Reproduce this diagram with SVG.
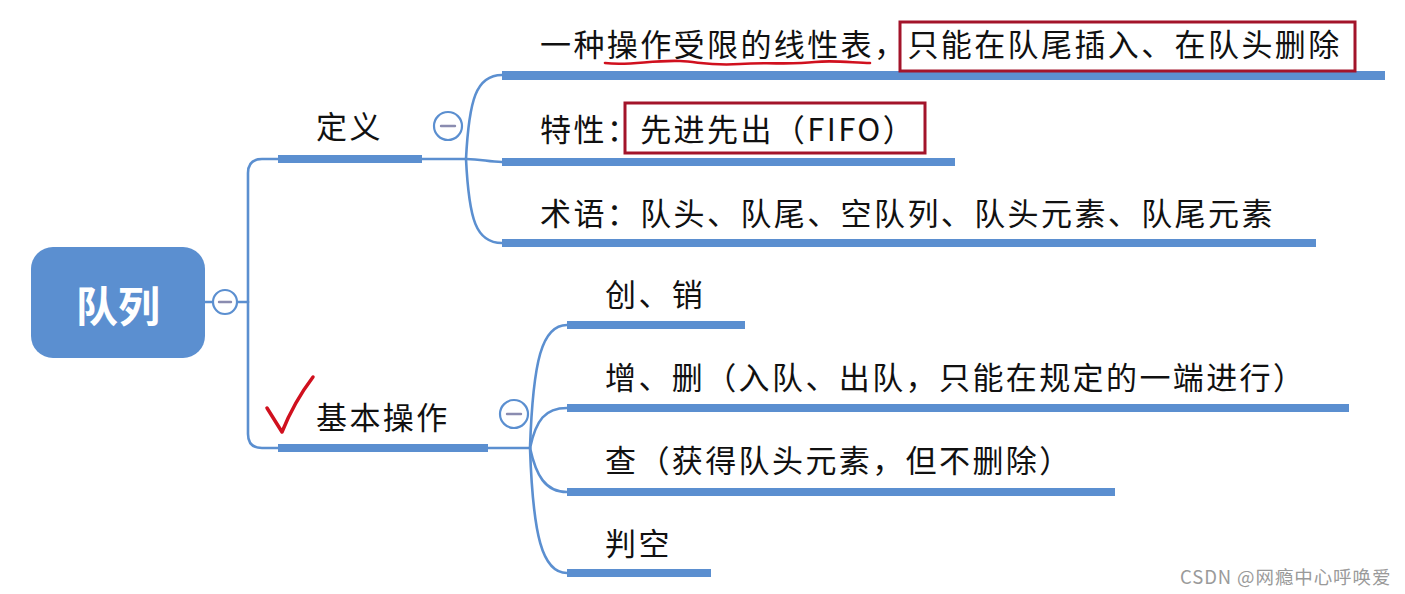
<svg xmlns="http://www.w3.org/2000/svg" width="1405" height="594" viewBox="0 0 1405 594">
<style>
.t{font-family:"Noto Sans CJK SC","Noto Sans",sans-serif;font-size:31px;letter-spacing:2.4px;fill:#111}
.bar{fill:#5b8fd0}
.ln{fill:none;stroke:#5b8fd0;stroke-width:2.6;stroke-linecap:round}
.cc{fill:#fff;stroke:#5b8fd0;stroke-width:2.2}
.mn{stroke:#8a8cb0;stroke-width:2.4;stroke-linecap:round}
.rb{fill:none;stroke:#a3142a;stroke-width:3}
</style>
<rect width="1405" height="594" fill="#fff"/>
<g id="connectors">
<path class="ln" d="M205,302 L248,302"/>
<path class="ln" d="M278,159 L262,159 Q248,159 248,173 L248,434 Q248,448 262,448 L278,448"/>
<path class="ln" d="M422,159 L466,159"/>
<path class="ln" d="M466,159 C469,100 476,75 502,75"/>
<path class="ln" d="M466,159 C482,159 488,162 502,162"/>
<path class="ln" d="M466,159 C469,220 476,243 502,243"/>
<path class="ln" d="M488,448 L530,448"/>
<path class="ln" d="M530,448 C533,360 542,325 567,325"/>
<path class="ln" d="M530,448 C536,420 545,408 567,408"/>
<path class="ln" d="M530,448 C536,475 545,492 567,492"/>
<path class="ln" d="M530,448 C533,535 542,573 567,573"/>
</g>
<g id="root">
<rect x="31" y="247" width="174" height="111" rx="22" fill="#5b8fd0"/>
<text x="118" y="322" text-anchor="middle" font-family="'Noto Sans CJK SC',sans-serif" font-size="42" font-weight="bold" fill="#fff">队列</text>
<circle class="cc" cx="225" cy="302" r="12"/>
<line class="mn" x1="219" y1="302" x2="231" y2="302"/>
</g>
<g id="def">
<rect class="bar" x="278" y="155" width="144" height="8"/>
<text class="t" x="316" y="138">定义</text>
<circle class="cc" cx="448" cy="126" r="14"/>
<line class="mn" x1="441" y1="126" x2="455" y2="126"/>
</g>
<g id="def1">
<rect class="bar" x="502" y="71" width="883" height="9"/>
<text class="t" x="540" y="56">一种操作受限的线性表，只能在队尾插入、在队头删除</text>
<rect class="rb" x="900" y="22" width="455" height="49"/>
<path d="M605,63 C630,66 650,60 680,61 C700,62 710,66 740,64 C770,62 790,65 815,62 C835,60 855,63 870,63" fill="none" stroke="#d0101e" stroke-width="2.6" stroke-linecap="round"/>
</g>
<g id="def2">
<rect class="bar" x="502" y="158" width="453" height="8"/>
<text class="t" x="540" y="141">特性：先进先出（FIFO）</text>
<rect class="rb" x="625" y="103" width="300" height="50"/>
</g>
<g id="def3">
<rect class="bar" x="502" y="239" width="814" height="8"/>
<text class="t" x="540" y="225">术语：队头、队尾、空队列、队头元素、队尾元素</text>
</g>
<g id="ops">
<rect class="bar" x="278" y="444" width="210" height="8"/>
<text class="t" x="316" y="429">基本操作</text>
<circle class="cc" cx="514" cy="414" r="14"/>
<line class="mn" x1="507" y1="414" x2="521" y2="414"/>
<path d="M267,408 L282,432 Q294,402 313,377" fill="none" stroke="#d0101e" stroke-width="3.5" stroke-linecap="round" stroke-linejoin="round"/>
</g>
<g id="op1">
<rect class="bar" x="567" y="321" width="178" height="8"/>
<text class="t" x="605" y="306">创、销</text>
</g>
<g id="op2">
<rect class="bar" x="567" y="404" width="782" height="8"/>
<text class="t" x="605" y="389">增、删（入队、出队，只能在规定的一端进行）</text>
</g>
<g id="op3">
<rect class="bar" x="567" y="488" width="548" height="8"/>
<text class="t" x="605" y="472">查（获得队头元素，但不删除）</text>
</g>
<g id="op4">
<rect class="bar" x="567" y="569" width="144" height="8"/>
<text class="t" x="605" y="555">判空</text>
</g>
<text x="1180" y="584" font-family="'Noto Sans CJK SC',sans-serif" font-size="18.5" letter-spacing="0.9" fill="#9a9a9a">CSDN @网瘾中心呼唤爱</text>
</svg>
